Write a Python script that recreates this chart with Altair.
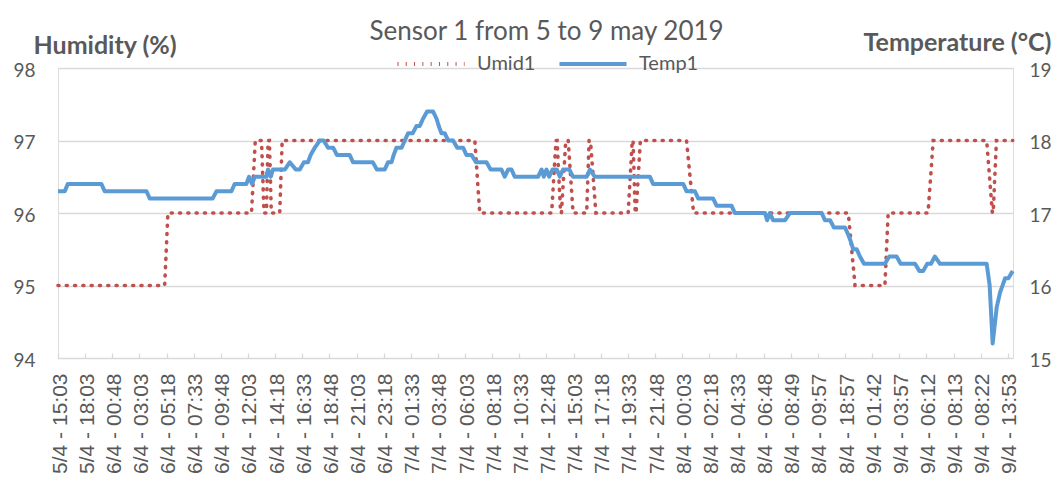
import altair as alt
import pandas as pd

# X-axis category labels (one per label interval)
x_labels = [
    "5/4 - 15:03", "5/4 - 18:03", "6/4 - 00:48", "6/4 - 03:03", "6/4 - 05:18",
    "6/4 - 07:33", "6/4 - 09:48", "6/4 - 12:03", "6/4 - 14:18", "6/4 - 16:33",
    "6/4 - 18:48", "6/4 - 21:03", "6/4 - 23:18", "7/4 - 01:33", "7/4 - 03:48",
    "7/4 - 06:03", "7/4 - 08:18", "7/4 - 10:33", "7/4 - 12:48", "7/4 - 15:03",
    "7/4 - 17:18", "7/4 - 19:33", "7/4 - 21:48", "8/4 - 00:03", "8/4 - 02:18",
    "8/4 - 04:33", "8/4 - 06:48", "8/4 - 08:49", "8/4 - 09:57", "8/4 - 18:57",
    "9/4 - 01:42", "9/4 - 03:57", "9/4 - 06:12", "9/4 - 08:13", "9/4 - 08:22",
    "9/4 - 13:53",
]

# Temp1 series: position (in label intervals) and value (deg C)
temp_pos = [
    0.00, 0.25, 0.36, 1.60, 1.72, 3.26, 3.38, 5.70, 5.84, 6.39,
    6.51, 6.94, 7.04, 7.15, 7.25, 7.68, 7.74, 7.84, 7.92, 8.36,
    8.54, 8.76, 8.91, 9.06, 9.21, 9.31, 9.46, 9.65, 9.79, 9.95,
    10.14, 10.28, 10.75, 10.87, 11.60, 11.75, 12.04, 12.16, 12.29, 12.37,
    12.47, 12.66, 12.78, 12.90, 13.07, 13.21, 13.33, 13.45, 13.60, 13.82,
    13.95, 14.03, 14.13, 14.25, 14.38, 14.56, 14.71, 14.93, 15.05, 15.24,
    15.40, 15.79, 15.94, 16.34, 16.46, 16.59, 16.71, 16.83, 17.69, 17.82,
    17.90, 18.00, 18.10, 18.22, 18.38, 18.49, 18.61, 18.84, 18.98, 19.48,
    19.60, 19.78, 21.81, 21.93, 23.04, 23.16, 23.47, 23.59, 24.14, 24.27,
    24.82, 24.94, 26.05, 26.13, 26.23, 26.35, 26.79, 26.97, 28.14, 28.26,
    28.45, 28.59, 29.00, 29.12, 29.22, 29.30, 29.43, 29.55, 29.70, 30.47,
    30.63, 30.90, 31.05, 31.58, 31.74, 31.88, 32.03, 32.17, 32.31, 32.50,
    34.22, 34.33, 34.44, 34.59, 34.71, 34.90, 35.02, 35.18,
]
temp_val = [
    17.3, 17.3, 17.4, 17.4, 17.3, 17.3, 17.2, 17.2, 17.3, 17.3,
    17.4, 17.4, 17.5, 17.4, 17.5, 17.5, 17.6, 17.5, 17.6, 17.6,
    17.7, 17.6, 17.6, 17.7, 17.7, 17.8, 17.9, 18.0, 18.0, 17.9,
    17.9, 17.8, 17.8, 17.7, 17.7, 17.6, 17.6, 17.7, 17.7, 17.8,
    17.9, 17.9, 18.0, 18.1, 18.1, 18.2, 18.2, 18.3, 18.4, 18.4,
    18.3, 18.2, 18.1, 18.1, 18.0, 18.0, 17.9, 17.9, 17.8, 17.8,
    17.7, 17.7, 17.6, 17.6, 17.5, 17.6, 17.6, 17.5, 17.5, 17.6,
    17.5, 17.6, 17.5, 17.6, 17.6, 17.5, 17.6, 17.6, 17.5, 17.5,
    17.6, 17.5, 17.5, 17.4, 17.4, 17.3, 17.3, 17.2, 17.2, 17.1,
    17.1, 17.0, 17.0, 16.9, 17.0, 16.9, 16.9, 17.0, 17.0, 16.9,
    16.9, 16.8, 16.8, 16.7, 16.6, 16.5, 16.5, 16.4, 16.3, 16.3,
    16.4, 16.4, 16.3, 16.3, 16.2, 16.2, 16.3, 16.3, 16.4, 16.3,
    16.3, 16.0, 15.2, 15.7, 15.9, 16.1, 16.1, 16.2,
]

# Umid1 series: position (in label intervals) and value (%)
umid_pos = [
    0.00, 3.93, 4.05, 7.13, 7.27, 7.50, 7.59, 7.68, 7.74, 7.79,
    7.86, 8.17, 8.26, 15.36, 15.54, 18.19, 18.35, 18.39, 18.52, 18.55,
    18.71, 18.80, 18.98, 19.48, 19.57, 19.62, 19.82, 21.01, 21.16, 21.19,
    21.27, 21.30, 21.46, 23.16, 23.42, 29.12, 29.37, 30.47, 30.59, 32.06,
    32.25, 34.22, 34.43, 34.46, 34.58, 35.18,
]
umid_val = [
    95, 95, 96, 96, 97, 97, 96, 96, 97, 97,
    96, 96, 97, 97, 96, 96, 97, 97, 96, 96,
    97, 97, 96, 96, 97, 97, 96, 96, 97, 97,
    96, 96, 97, 97, 96, 96, 95, 95, 96, 96,
    97, 97, 96, 96, 97, 97,
]

series_names = ["Umid1", "Temp1"]
series_colors = ["#c0504d", "#5b9bd5"]
series_dash = [[1, 7.3], [1, 0]]

temp_df = pd.DataFrame({"pos": temp_pos, "value": temp_val, "series": "Temp1"})
umid_df = pd.DataFrame({"pos": umid_pos, "value": umid_val, "series": "Umid1"})

TXT = "#595959"
GRID = "#d9d9d9"
label_expr = "[" + ",".join("'%s'" % s for s in x_labels) + "][datum.value]"

x_enc = alt.X(
    "pos:Q",
    scale=alt.Scale(domain=[0, 35.19], nice=False, zero=False),
    axis=alt.Axis(
        values=list(range(len(x_labels))), labelExpr=label_expr, title=None,
        grid=False, domain=False, ticks=True, tickSize=5, tickColor=GRID,
        tickWidth=1.3, offset=-5, labelAngle=270, labelAlign="right",
        labelBaseline="middle", labelPadding=15, labelFont="Liberation Sans",
        labelFontSize=21, labelColor=TXT, labelOverlap=False, labelFlush=False,
        labelBound=False, labelOffset=2,
    ),
)

leg = alt.Legend(
    orient="none", legendX=337, legendY=-40, direction="horizontal",
    symbolType="stroke", symbolSize=4500, symbolStrokeWidth=4,
    labelFont="Lato", labelFontSize=20, labelColor=TXT, labelOffset=10,
    columnPadding=15, title=None, padding=0,
)
color_enc = alt.Color("series:N", scale=alt.Scale(domain=series_names, range=series_colors), legend=leg)
dash_enc = alt.StrokeDash("series:N", scale=alt.Scale(domain=series_names, range=series_dash), legend=leg)

umid_line = alt.Chart(umid_df).mark_line(strokeWidth=3.6, strokeCap="round").encode(
    x=x_enc,
    y=alt.Y(
        "value:Q",
        scale=alt.Scale(domain=[94, 98], nice=False, zero=False),
        axis=alt.Axis(
            values=[94, 95, 96, 97, 98], title="Humidity (%)", titleAngle=0,
            titleAlign="left", titleBaseline="alphabetic", titleX=-25, titleY=-15,
            titleFont="Lato", titleFontSize=25, titleFontWeight="bold", titleColor=TXT,
            labelFont="Lato", labelFontSize=19, labelColor=TXT, labelPadding=23,
            ticks=False, domain=False, grid=True, gridColor=GRID, gridWidth=1.3,
            labelOffset=2,
        ),
    ),
    color=color_enc,
    strokeDash=dash_enc,
)

temp_line = alt.Chart(temp_df).mark_line(strokeWidth=4, strokeJoin="round").encode(
    x=x_enc,
    y=alt.Y(
        "value:Q",
        scale=alt.Scale(domain=[15, 19], nice=False, zero=False),
        axis=alt.Axis(
            orient="right", values=[15, 16, 17, 18, 19], title="Temperature (°C)",
            titleAngle=0, titleAlign="right", titleBaseline="alphabetic",
            titleX=38, titleY=-18, titleFont="Lato", titleFontSize=25,
            titleFontWeight="bold", titleColor=TXT, labelFont="Lato",
            labelFontSize=19, labelColor=TXT, labelPadding=16, ticks=False,
            domain=False, grid=False, labelOffset=2,
        ),
    ),
    color=color_enc,
    strokeDash=dash_enc,
)

chart = alt.layer(umid_line, temp_line).resolve_scale(y="independent").properties(
    width=955,
    height=290,
    autosize=alt.AutoSizeParams(type="none"),
    padding={"left": 50, "top": 60, "right": 40, "bottom": 128},
    title=alt.TitleParams(
        "Sensor 1 from 5 to 9 may 2019", font="Lato", fontSize=26,
        fontWeight="normal", color=TXT, anchor="middle", frame="group",
        baseline="alphabetic", offset=0, dy=38, dx=11,
    ),
).configure_view(stroke=None).configure(background="white")

chart.save("out.html", embed_options={"renderer": "svg", "actions": False})
